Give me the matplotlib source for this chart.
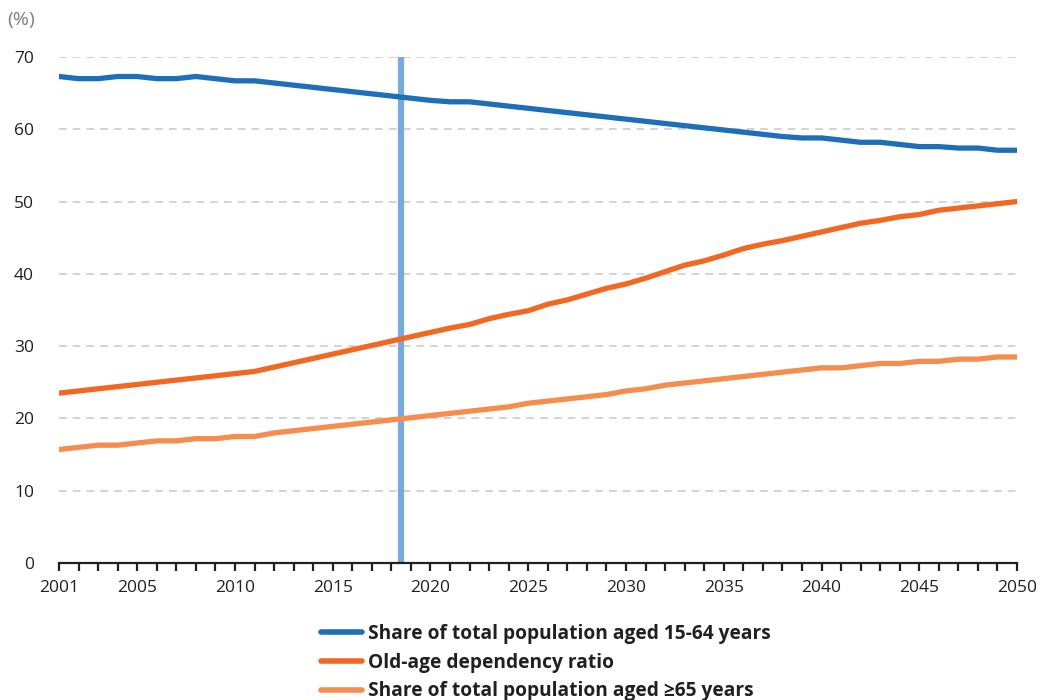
import numpy as np
import matplotlib
matplotlib.use("Agg")
import matplotlib.pyplot as plt
from matplotlib.lines import Line2D

plt.rcParams['font.family'] = ['Open Sans', 'DejaVu Sans']

years = list(range(2001, 2051))

share_15_64 = [67.3, 67.0, 67.0, 67.3, 67.3, 67.0, 67.0, 67.3, 67.0, 66.7,
               66.7, 66.4, 66.1, 65.8, 65.5, 65.2, 64.9, 64.6, 64.3, 64.0,
               63.8, 63.8, 63.5, 63.2, 62.9, 62.6, 62.3, 62.0, 61.7, 61.4,
               61.1, 60.8, 60.5, 60.2, 59.9, 59.6, 59.3, 59.0, 58.8, 58.8,
               58.5, 58.2, 58.2, 57.9, 57.6, 57.6, 57.4, 57.4, 57.1, 57.1]

dependency = [23.5, 23.8, 24.1, 24.4, 24.7, 25.0, 25.3, 25.6, 25.9, 26.2,
              26.5, 27.1, 27.7, 28.3, 28.9, 29.5, 30.1, 30.7, 31.3, 31.9,
              32.5, 33.0, 33.8, 34.4, 34.9, 35.8, 36.4, 37.2, 38.0, 38.6,
              39.4, 40.3, 41.2, 41.8, 42.6, 43.5, 44.1, 44.6, 45.2, 45.8,
              46.4, 47.0, 47.4, 47.9, 48.2, 48.8, 49.1, 49.4, 49.7, 50.0]

share_65 = [15.7, 16.0, 16.3, 16.3, 16.6, 16.9, 16.9, 17.2, 17.2, 17.5,
            17.5, 18.0, 18.3, 18.6, 18.9, 19.2, 19.5, 19.8, 20.1, 20.4,
            20.7, 21.0, 21.3, 21.6, 22.1, 22.4, 22.7, 23.0, 23.3, 23.8,
            24.1, 24.6, 24.9, 25.2, 25.5, 25.8, 26.1, 26.4, 26.7, 27.0,
            27.0, 27.3, 27.6, 27.6, 27.9, 27.9, 28.2, 28.2, 28.5, 28.5]

labels = ["Share of total population aged 15-64 years",
          "Old-age dependency ratio",
          "Share of total population aged \u226565 years"]
colors = ["#1f6fb8", "#f26722", "#f68d4e"]
split_year = 2018.5
xtick_labels = [2001, 2005, 2010, 2015, 2020, 2025, 2030, 2035, 2040, 2045, 2050]

fig = plt.figure(figsize=(10.46, 7.0), dpi=100)
ax = fig.add_axes([0.0564, 0.1957, 0.9159, 0.7229])

ax.axvline(split_year, color="#79aadb", lw=4.5, zorder=1)
for series, col in zip([share_15_64, dependency, share_65], colors):
    ax.plot(years, series, color=col, lw=3.8, solid_capstyle='round', zorder=3)

ax.set_xlim(2001, 2050)
ax.set_ylim(0, 70)
ax.set_yticks(range(0, 71, 10))
ax.grid(axis='y', color='#c8c8c8', ls=(0, (5, 4)), lw=1.1)
ax.set_axisbelow(True)

ax.set_xticks(years, minor=False)
ax.set_xticklabels([str(y) if y in xtick_labels else "" for y in years])
ax.tick_params(axis='x', direction='out', length=6, width=1.6, color='#231f20',
               labelsize=12.5, labelcolor='#231f20', pad=6)
ax.tick_params(axis='y', length=0, labelsize=12.5, labelcolor='#231f20', pad=18)

for s in ['top', 'right', 'left']:
    ax.spines[s].set_visible(False)
ax.spines['bottom'].set_color('#231f20')
ax.spines['bottom'].set_linewidth(1.6)

fig.text(0.007, 0.972, "(%)", fontsize=14, color='#808080', ha='left', va='center')

handles = [Line2D([0], [0], color=c, lw=4, solid_capstyle='round') for c in colors]
leg = fig.legend(handles, labels, loc='upper left', bbox_to_anchor=(0.298, 0.122),
                 frameon=False, handlelength=2.1, handletextpad=0.35,
                 labelspacing=0.45, borderpad=0,
                 prop={'weight': 'bold', 'size': 13.8})
for t in leg.get_texts():
    t.set_color('#231f20')

fig.savefig("out.png", dpi=100)
